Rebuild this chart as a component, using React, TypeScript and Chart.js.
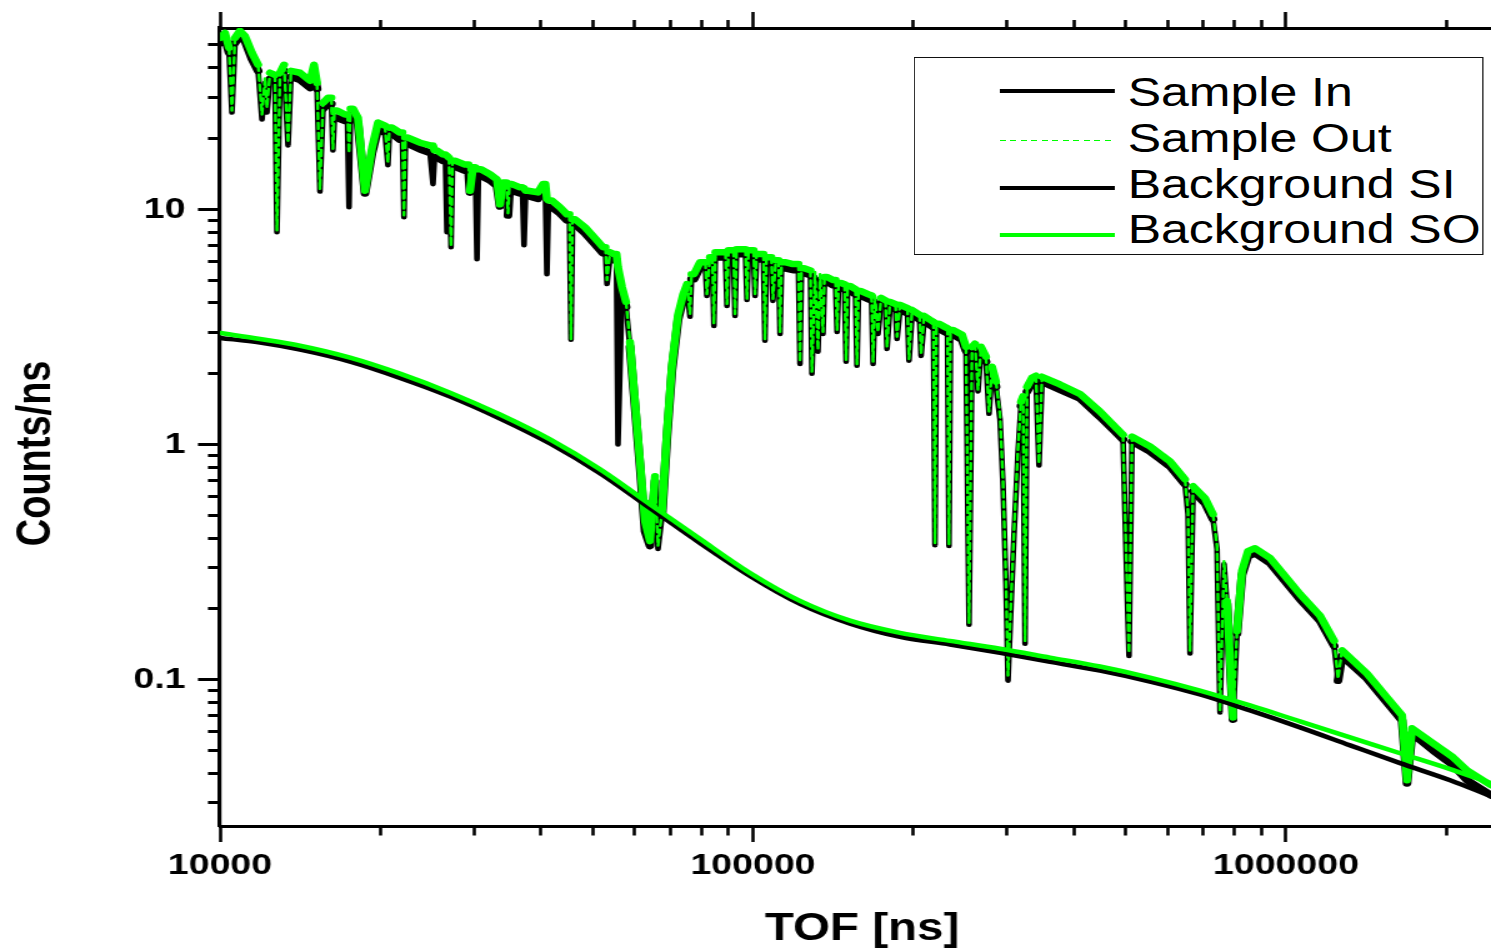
import React, { useEffect, useRef } from "react";
import { Chart, registerables } from "chart.js";

Chart.register(...registerables);

// ---- data (TOF in ns, Counts/ns) ----
const tof: number[] = [
  10000, 10220, 10400, 10530, 10670, 10900, 11140, 11480, 11790, 11990,
  12150, 12250, 12410, 12680, 12790, 12960, 13190, 13420, 13590, 14130,
  14760, 15010, 15210, 15400, 15610, 15950, 16185, 16290, 16395, 16580,
  17160, 17347, 17460, 17573, 17760, 18150, 18710, 19290, 19790, 20390,
  20660, 20794, 21020, 21760, 21997, 22140, 22284, 22520, 23730, 24770,
  25100, 25263, 25540, 26210, 26488, 26660, 26891, 27130, 27306, 27600,
  28820, 29260, 29450, 29830, 30154, 30350, 30547, 30880, 32100, 33090,
  33520, 33960, 34476, 34700, 34926, 35310, 36550, 36950, 37190, 37432,
  37850, 39500, 40360, 40785, 41050, 41317, 41950, 43440, 44780, 45266,
  45560, 45856, 46350, 48400, 50530, 52310, 52876, 53220, 53920, 54860,
  55450, 55810, 56790, 57780, 58780, 60070, 61380, 62720, 64090, 65490,
  66340, 67500, 68970, 70480, 72330, 73910, 75200, 76180, 76675, 77500,
  79540, 81411, 81940, 83020, 83914, 84460, 85009, 85930, 88803, 89380,
  89961, 90940, 91932, 92530, 93131, 94550, 96811, 97440, 98073, 99150,
  100248, 100900, 101556, 103100, 104620, 105300, 105983, 107200, 108296, 109000,
  110400, 111674, 112400, 113131, 114800, 118900, 121709, 122500, 123296, 124700,
  128167, 129000, 130700, 132400, 133600, 135300, 136180, 137700, 141300, 142871,
  143800, 144735, 146300, 148534, 149500, 150472, 152100, 155688, 156700, 157719,
  159500, 164400, 166915, 168000, 169400, 171600, 173900, 177248, 178400, 180700,
  185097, 186300, 188700, 194933, 196200, 198800, 205365, 206700, 209400, 214800,
  218082, 219500, 220927, 223400, 229200, 231694, 233200, 234716, 237300, 246700,
  251000, 254300, 257600, 260900, 264300, 267800, 273600, 277200, 280800, 285700,
  290700, 294500, 298300, 300900, 304900, 308800, 314200, 318300, 321100, 323900,
  326700, 333800, 339600, 344000, 348500, 376700, 410700, 447700, 477800, 494600,
  498800, 507500, 514200, 555600, 605800, 646400, 654900, 660500, 669200, 704800,
  729500, 742300, 751900, 765100, 775000, 795400, 809300, 826900, 848700, 874700,
  933300, 1062000, 1158000, 1231000, 1252000, 1274000, 1419000, 1547000, 1651000, 1687000,
  1724000, 1887000, 2058000, 2186000, 2425000,
];

const sampleOut: number[] = [
  53.6, 56.2, 48.6, 26.3, 53.6, 57.4, 54.6, 46.3, 41.2, 25.3,
  36.3, 27.0, 38.1, 37.3, 8.15, 38.1, 41.2, 19.2, 38.8, 38.1,
  35.2, 41.2, 34.5, 12.15, 28.4, 29.8, 29.8, 18.1, 26.3, 26.3,
  25.3, 25.3, 17.4, 26.8, 26.8, 24.5, 12.0, 18.3, 23.4, 22.7,
  15.8, 22.3, 22.3, 21.2, 21.2, 9.43, 20.2, 20.2, 19.2, 18.7,
  18.7, 17.8, 17.8, 17.1, 17.1, 16.9, 16.6, 6.97, 16.1, 16.1,
  15.5, 15.5, 12.0, 15.1, 15.1, 14.8, 14.8, 14.8, 14.1, 13.4,
  10.5, 13.0, 13.0, 9.62, 12.8, 12.8, 12.4, 12.4, 12.3, 12.0,
  12.0, 11.8, 12.8, 12.8, 11.1, 10.9, 10.9, 10.2, 9.52, 9.52,
  2.81, 9.07, 9.07, 8.39, 7.54, 6.90, 6.90, 5.00, 6.57, 6.45,
  6.45, 5.68, 4.67, 4.04, 2.73, 1.52, 0.847, 0.472, 0.388, 0.732,
  0.370, 0.520, 1.135, 2.18, 3.56, 4.32, 4.81, 3.59, 5.30, 5.30,
  5.96, 5.96, 4.36, 6.26, 6.26, 3.26, 6.57, 6.57, 6.57, 3.96,
  6.70, 6.70, 6.70, 3.59, 6.77, 6.77, 6.77, 4.16, 6.70, 6.70,
  6.70, 4.36, 6.45, 6.45, 6.45, 2.81, 6.26, 6.26, 6.26, 4.16,
  6.08, 6.08, 3.01, 5.96, 5.96, 5.85, 5.85, 2.25, 5.62, 5.62,
  5.50, 2.04, 5.41, 2.53, 5.30, 3.01, 5.15, 5.15, 5.00, 5.00,
  3.07, 4.86, 4.86, 4.80, 2.29, 4.72, 4.72, 4.58, 2.20, 4.49,
  4.49, 4.36, 4.30, 2.25, 4.28, 3.01, 4.20, 4.10, 2.60, 4.04,
  3.95, 2.87, 3.92, 3.80, 2.31, 3.73, 3.56, 2.43, 3.52, 3.39,
  3.32, 0.381, 3.26, 3.26, 3.16, 3.12, 0.377, 3.07, 3.07, 2.93,
  2.60, 0.174, 2.60, 2.68, 1.71, 2.60, 2.36, 1.38, 2.14, 1.85,
  1.34, 0.697, 0.263, 0.104, 0.216, 0.428, 0.962, 1.52, 1.60, 0.146,
  1.76, 1.92, 1.96, 0.831, 1.94, 1.80, 1.64, 1.38, 1.19, 1.10,
  0.520, 0.130, 1.08, 0.981, 0.847, 0.711, 0.520, 0.133, 0.664, 0.590,
  0.505, 0.370, 0.0739, 0.319, 0.216, 0.0690, 0.161, 0.290, 0.352, 0.362,
  0.329, 0.231, 0.187, 0.146, 0.101, 0.133, 0.106, 0.0839, 0.0704, 0.0373,
  0.0620, 0.0536, 0.0467, 0.0411, 0.0355,
];

const sampleIn: number[] = [
  51.0, 53.6, 46.3, 25.8, 51.0, 54.6, 52.0, 43.6, 38.8, 24.1,
  34.5, 25.8, 35.9, 35.2, 7.99, 36.3, 38.8, 18.7, 36.6, 35.6,
  32.9, 38.1, 32.6, 11.9, 26.8, 28.1, 28.1, 17.8, 24.5, 24.5,
  23.8, 23.8, 10.2, 25.3, 25.3, 23.1, 11.7, 17.4, 22.0, 21.2,
  15.4, 21.0, 21.0, 19.8, 19.8, 9.25, 19.0, 19.0, 18.0, 17.4,
  12.8, 16.6, 16.6, 16.1, 16.1, 7.99, 15.6, 6.90, 15.2, 15.2,
  14.6, 14.6, 11.8, 14.2, 14.2, 6.14, 13.9, 13.9, 13.3, 12.6,
  10.3, 12.3, 12.3, 9.43, 12.0, 12.0, 11.7, 11.7, 7.04, 11.4,
  11.4, 11.1, 11.9, 11.9, 5.30, 10.2, 10.2, 9.62, 8.98, 8.98,
  2.79, 8.64, 8.64, 7.91, 7.11, 6.51, 6.51, 4.81, 6.20, 6.08,
  6.08, 1.00, 4.45, 3.84, 2.60, 1.45, 0.807, 0.428, 0.370, 0.697,
  0.359, 0.495, 1.08, 2.08, 3.39, 4.12, 4.58, 3.49, 5.05, 5.05,
  5.68, 5.68, 4.28, 5.96, 5.96, 3.19, 6.26, 6.26, 6.26, 3.88,
  6.38, 6.38, 6.38, 3.52, 6.45, 6.45, 6.45, 4.12, 6.38, 6.38,
  6.38, 4.28, 6.14, 6.14, 6.14, 2.76, 5.96, 5.96, 5.96, 4.08,
  5.79, 5.79, 2.95, 5.62, 5.62, 5.52, 5.52, 2.20, 5.36, 5.36,
  5.25, 2.00, 5.15, 2.48, 5.05, 2.95, 4.91, 4.91, 4.76, 4.76,
  3.01, 4.63, 4.63, 4.57, 2.25, 4.49, 4.49, 4.36, 2.16, 4.28,
  4.28, 4.16, 4.10, 2.20, 4.08, 2.95, 4.00, 3.90, 2.55, 3.84,
  3.76, 2.81, 3.73, 3.62, 2.27, 3.56, 3.40, 2.38, 3.35, 3.22,
  3.15, 0.373, 3.10, 3.10, 3.01, 2.97, 0.370, 2.93, 2.93, 2.79,
  2.50, 0.171, 2.48, 2.55, 1.68, 2.48, 2.25, 1.35, 2.04, 1.76,
  1.28, 0.670, 0.253, 0.0990, 0.208, 0.412, 0.925, 1.46, 1.54, 0.142,
  1.68, 1.83, 1.87, 0.815, 1.85, 1.71, 1.57, 1.31, 1.135, 1.05,
  0.505, 0.126, 1.03, 0.934, 0.807, 0.677, 0.505, 0.129, 0.632, 0.562,
  0.481, 0.359, 0.0725, 0.310, 0.210, 0.0677, 0.157, 0.279, 0.335, 0.345,
  0.313, 0.220, 0.178, 0.139, 0.0990, 0.126, 0.101, 0.0799, 0.0670, 0.0362,
  0.0590, 0.0500, 0.0432, 0.0373, 0.0322,
];

const bgTof: number[] = [
  10000, 11890, 14130, 17540, 21760, 27010, 33520, 41610, 51640, 64090,
  79540, 98710, 122500, 152100, 188700, 234200, 290700, 360800, 447700, 555600,
  689600, 856000, 1062000, 1319000, 1637000, 2032000, 2425000,
];
const backgroundSO: number[] = [
  2.98, 2.81, 2.63, 2.34, 2.00, 1.66, 1.34, 1.050, 0.784, 0.557,
  0.396, 0.284, 0.216, 0.178, 0.158, 0.146, 0.1353, 0.124, 0.1136, 0.102,
  0.0898, 0.0776, 0.0664, 0.0568, 0.0486, 0.0416, 0.0362,
];
const backgroundSI: number[] = [
  2.84, 2.71, 2.53, 2.25, 1.92, 1.60, 1.29, 1.010, 0.754, 0.536,
  0.381, 0.276, 0.210, 0.173, 0.152, 0.141, 0.130, 0.119, 0.1092, 0.0981,
  0.0864, 0.0739, 0.0626, 0.0525, 0.0441, 0.0373, 0.0319,
];

const xMajorTicks: number[] = [10000, 100000, 1000000];
const xMinorTicks: number[] = [
  20000, 30000, 40000, 50000, 60000, 70000, 80000, 90000,
  200000, 300000, 400000, 500000, 600000, 700000, 800000, 900000, 2000000,
];
const yMajorTicks: number[] = [0.1, 1, 10];
const yMinorTicks: number[] = [
  0.03, 0.04, 0.05, 0.06, 0.07, 0.08, 0.09,
  0.2, 0.3, 0.4, 0.5, 0.6, 0.7, 0.8, 0.9,
  2, 3, 4, 5, 6, 7, 8, 9, 20, 30, 40, 50,
];
const seriesLabels: string[] = ["Sample In", "Sample Out", "Background SI", "Background SO"];
const xTitle = "TOF [ns]";
const yTitle = "Counts/ns";

const X_MIN = 10000;
const X_MAX = 2424500;
const Y_MIN = 0.02383;
const Y_MAX = 59.05;

// the reference figure is stretched horizontally; draw at native width, stretch with CSS
const OUT_W = 1491;
const W = 1193;
const H = 950;
const GREEN = "#00ff00";
const FONT = "'Liberation Sans', Arial, Helvetica, sans-serif";

const toPoints = (xs: number[], ys: number[]) => xs.map((x, i) => ({ x, y: ys[i] }));

function Legend() {
  const rows = [
    { label: seriesLabels[0], dashed: false, color: "#000", thick: 4, ly: 92, ty: 92 },
    { label: seriesLabels[1], dashed: true, color: GREEN, thick: 1.5, ly: 141, ty: 138 },
    { label: seriesLabels[2], dashed: false, color: "#000", thick: 4, ly: 189, ty: 184 },
    { label: seriesLabels[3], dashed: false, color: GREEN, thick: 4, ly: 236, ty: 229.5 },
  ];
  const boxTop = 57;
  const border = 1.6;
  const inner = boxTop + border;
  return (
    <div
      style={{
        position: "absolute",
        left: 731.3,
        top: boxTop,
        width: 456,
        height: 198,
        border: `${border}px solid #111`,
        boxSizing: "border-box",
        background: "#fff",
      }}
    >
      {rows.map((r) => (
        <React.Fragment key={r.label}>
          <div
            style={{
              position: "absolute",
              left: 67.5,
              top: r.ly - inner - r.thick / 2,
              width: 92,
              height: r.thick,
              background: r.dashed
                ? `repeating-linear-gradient(to right, ${r.color} 0px, ${r.color} 4.8px, transparent 4.8px, transparent 8.4px)`
                : r.color,
            }}
          />
          <div
            style={{
              position: "absolute",
              left: 170,
              top: r.ty - inner - 19.5,
              fontFamily: FONT,
              fontSize: "40px",
              lineHeight: "40px",
              whiteSpace: "nowrap",
              color: "#000",
            }}
          >
            {r.label}
          </div>
        </React.Fragment>
      ))}
    </div>
  );
}

export default function App() {
  const ref = useRef<HTMLCanvasElement>(null);

  useEffect(() => {
    document.body.style.margin = "0";
    const canvas = ref.current;
    if (!canvas) return;

    const xTicks = [...xMajorTicks, ...xMinorTicks].sort((a, b) => a - b);
    const yTicks = [...yMajorTicks, ...yMinorTicks].sort((a, b) => a - b);
    const xMaj = (v: any) => xMajorTicks.includes(v);
    const yMaj = (v: any) => yMajorTicks.includes(v);
    const tv = (c: any) => (c && c.tick ? c.tick.value : NaN);
    const steep = (c: any) => {
      const dx = Math.abs(c.p1.x - c.p0.x);
      const dy = Math.abs(c.p1.y - c.p0.y);
      return dy > 25 && dx < 3.4;
    };

    const chart = new Chart(canvas, {
      type: "line",
      data: {
        datasets: [
          {
            label: seriesLabels[0],
            data: toPoints(tof, sampleIn),
            borderColor: "#000",
            borderWidth: 7,
            order: 4,
            segment: { borderWidth: (c: any) => (steep(c) ? 4.6 : undefined) },
          },
          {
            label: seriesLabels[1],
            data: toPoints(tof, sampleOut),
            borderColor: GREEN,
            borderWidth: 6.5,
            order: 3,
            segment: {
              borderWidth: (c: any) => (steep(c) ? 2.4 : undefined),
              borderDash: (c: any) => (steep(c) ? [6, 4] : undefined),
            },
          },
          {
            label: seriesLabels[2],
            data: toPoints(bgTof, backgroundSI),
            borderColor: "#000",
            borderWidth: 4.5,
            cubicInterpolationMode: "monotone",
            order: 2,
          },
          {
            label: seriesLabels[3],
            data: toPoints(bgTof, backgroundSO),
            borderColor: GREEN,
            borderWidth: 4.5,
            cubicInterpolationMode: "monotone",
            order: 1,
          },
        ],
      },
      options: {
        responsive: false,
        animation: false,
        events: [],
        layout: { padding: 0 },
        elements: {
          point: { radius: 0, hoverRadius: 0 },
          line: { tension: 0, borderJoinStyle: "round", borderCapStyle: "round", fill: false },
        },
        plugins: { legend: { display: false }, tooltip: { enabled: false }, title: { display: false } },
        scales: {
          x: {
            type: "logarithmic",
            position: "bottom",
            min: X_MIN,
            max: X_MAX,
            bounds: "data",
            afterBuildTicks: (s: any) => {
              s.ticks = xTicks.map((v) => ({ value: v, major: xMaj(v) }));
            },
            afterFit: (s: any) => {
              s.height = 124;
            },
            border: { display: true, color: "#000", width: 3 },
            grid: {
              display: true,
              drawOnChartArea: false,
              drawTicks: true,
              tickLength: 16,
              tickColor: "#000",
              tickWidth: 2.6,
              tickBorderDash: (c: any) => (xMaj(tv(c)) ? [] : [7.5, 100]),
              tickBorderDashOffset: 0,
            },
            ticks: {
              autoSkip: false,
              maxRotation: 0,
              minRotation: 0,
              padding: 6,
              color: "#000",
              font: { family: FONT, size: 30, weight: "bold", lineHeight: 1.2 },
              callback: (v: any) => (xMaj(v) ? String(v) : ""),
            },
            title: {
              display: true,
              text: " " + xTitle,
              color: "#000",
              font: { family: FONT, size: 38, weight: "bold", lineHeight: 1 },
              padding: { top: 0, bottom: 1.5 },
            },
          },
          x2: {
            type: "logarithmic",
            position: "top",
            min: X_MIN,
            max: X_MAX,
            bounds: "data",
            afterBuildTicks: (s: any) => {
              s.ticks = xTicks.map((v) => ({ value: v, major: xMaj(v) }));
            },
            afterFit: (s: any) => {
              s.height = 25;
            },
            border: { display: true, color: "#000", width: 3 },
            grid: {
              display: true,
              drawOnChartArea: false,
              drawTicks: true,
              tickLength: 16,
              tickColor: "#000",
              tickWidth: 2.6,
              tickBorderDash: (c: any) => (xMaj(tv(c)) ? [] : [10, 100]),
              tickBorderDashOffset: (c: any) => (xMaj(tv(c)) ? 0 : 102),
            },
            ticks: {
              autoSkip: false,
              maxRotation: 0,
              minRotation: 0,
              padding: 0,
              font: { family: FONT, size: 10 },
              callback: () => "",
            },
          },
          y: {
            type: "logarithmic",
            position: "left",
            min: Y_MIN,
            max: Y_MAX,
            bounds: "data",
            afterBuildTicks: (s: any) => {
              s.ticks = yTicks.map((v) => ({ value: v, major: yMaj(v) }));
            },
            afterFit: (s: any) => {
              s.width = 176;
            },
            border: { display: true, color: "#000", width: 3.2 },
            grid: {
              display: true,
              drawOnChartArea: false,
              drawTicks: true,
              tickLength: 17.6,
              tickColor: "#000",
              tickWidth: 3,
              tickBorderDash: (c: any) => (yMaj(tv(c)) ? [] : [10, 100]),
              tickBorderDashOffset: (c: any) => (yMaj(tv(c)) ? 0 : 102),
            },
            ticks: {
              autoSkip: false,
              padding: 10,
              color: "#000",
              font: { family: FONT, size: 30, weight: "bold", lineHeight: 1.2 },
              callback: (v: any) => (yMaj(v) ? String(v) : ""),
            },
            title: {
              display: true,
              text: yTitle + "     ",
              color: "#000",
              font: { family: FONT, size: 38, weight: "bold", lineHeight: 1 },
              padding: { top: 10.6, bottom: 0 },
            },
          },
        },
      },
    } as any);

    return () => chart.destroy();
  }, []);

  return (
    <div
      style={{
        position: "absolute",
        left: 0,
        top: 0,
        width: OUT_W,
        height: H,
        overflow: "hidden",
        background: "#fff",
      }}
    >
      <div
        style={{
          position: "absolute",
          left: 0,
          top: 0,
          width: W,
          height: H,
          transform: `scaleX(${OUT_W / W})`,
          transformOrigin: "0 0",
        }}
      >
        <canvas ref={ref} width={W} height={H} style={{ display: "block", width: W, height: H }} />
        <Legend />
      </div>
    </div>
  );
}
